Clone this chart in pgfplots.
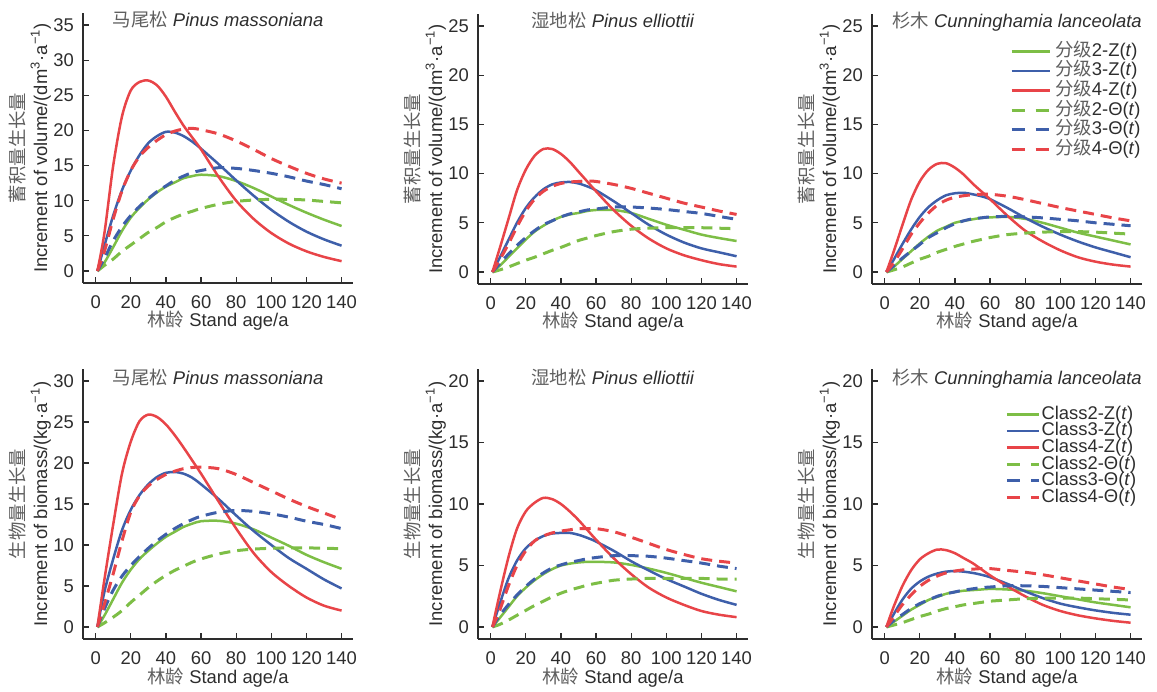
\documentclass[border=0pt]{standalone}
\usepackage{fontspec}
\setmainfont{Liberation Sans}
\newfontfamily\cjk{Noto Sans CJK SC}
\usepackage{pgfplots}
\usepackage{pgfplotstable}
\pgfplotsset{compat=1.18}
\usepackage{xcolor}
\definecolor{cgreen}{RGB}{125,190,70}
\definecolor{cblue}{RGB}{62,95,170}
\definecolor{cred}{RGB}{232,68,72}
\definecolor{txt}{RGB}{45,45,45}
\definecolor{cjkgray}{RGB}{95,95,95}

% columns: age, Z(t) for class 2/3/4, Theta(t) for class 2/3/4
\pgfplotstableread{
t   Z2    Z3    Z4    T2    T3    T4
1   0     0     0     0     0     0
5   1.2   3.6   5.4   0.8   1.8   2.8
10  3.4   7.9   15.0  1.7   4.3   7.4
15  5.7   11.5  22.0  2.8   6.3   11.4
20  7.6   14.3  25.7  3.7   7.9   14.3
25  9.0   16.5  26.9  4.6   9.2   16.3
30  10.2  18.2  27.1  5.5   10.3  17.6
35  11.2  19.2  26.4  6.2   11.3  18.6
40  12.0  19.8  24.8  7.0   12.1  19.4
45  12.6  19.7  22.7  7.6   12.9  19.9
50  13.2  19.2  20.7  8.1   13.5  20.2
55  13.5  18.4  19.0  8.5   14.0  20.3
60  13.7  17.4  17.3  8.9   14.3  20.1
70  13.5  15.2  13.4  9.5   14.7  19.5
80  12.8  12.9  10.0  9.9   14.6  18.5
90  11.8  10.7  7.4   10.1  14.3  17.3
100 10.6  8.7   5.4   10.2  13.9  16.0
110 9.4   7.0   3.9   10.2  13.4  14.9
120 8.3   5.6   2.8   10.1  12.8  13.9
130 7.3   4.5   2.0   9.9   12.3  13.1
140 6.4   3.6   1.4   9.7   11.7  12.5
}\volA
\pgfplotstableread{
t   Z2    Z3    Z4    T2    T3    T4
1   0     0     0     0     0     0
5   0.6   1.4   2.3   0.2   0.8   1.2
10  1.5   3.2   5.3   0.5   1.8   2.8
15  2.4   5.0   8.3   0.85  2.7   4.6
20  3.3   6.5   10.4  1.2   3.5   6.2
25  4.1   7.6   11.8  1.5   4.2   7.4
30  4.7   8.4   12.5  1.85  4.8   8.2
35  5.2   8.9   12.5  2.2   5.2   8.7
40  5.6   9.1   12.0  2.5   5.6   9.0
45  5.85  9.15  11.2  2.85  5.9   9.15
50  6.0   9.0   10.2  3.2   6.1   9.2
55  6.2   8.7   9.2   3.45  6.3   9.25
60  6.3   8.3   8.2   3.7   6.4   9.2
70  6.3   7.2   6.3   4.1   6.6   8.9
80  6.0   6.0   4.7   4.35  6.6   8.5
90  5.4   4.8   3.4   4.45  6.5   8.0
100 4.8   3.8   2.4   4.5   6.35  7.5
110 4.3   3.0   1.7   4.5   6.15  7.0
120 3.8   2.4   1.2   4.5   5.95  6.6
130 3.45  2.0   0.8   4.45  5.65  6.2
140 3.15  1.6   0.55  4.4   5.35  5.85
}\volB
\pgfplotstableread{
t   Z2    Z3    Z4    T2    T3    T4
1   0     0     0     0     0     0
5   0.5   1.2   2.0   0.2   0.6   0.9
10  1.3   2.8   4.7   0.5   1.4   2.3
15  2.1   4.3   7.3   0.9   2.1   3.8
20  2.9   5.6   9.2   1.3   2.8   5.0
25  3.6   6.6   10.4  1.6   3.5   6.0
30  4.2   7.3   11.0  2.0   4.0   6.8
35  4.6   7.8   11.05 2.3   4.5   7.3
40  5.0   8.0   10.6  2.6   4.9   7.6
45  5.2   8.05  9.9   2.85  5.2   7.75
50  5.35  7.9   9.0   3.1   5.4   7.85
55  5.5   7.7   8.2   3.3   5.5   7.9
60  5.55  7.4   7.4   3.5   5.6   7.9
70  5.6   6.5   5.7   3.8   5.65  7.7
80  5.4   5.5   4.2   3.95  5.6   7.35
90  5.0   4.6   3.1   4.05  5.5   6.95
100 4.5   3.8   2.2   4.1   5.35  6.55
110 4.0   3.1   1.5   4.1   5.2   6.2
120 3.6   2.5   1.05  4.05  5.0   5.85
130 3.2   2.0   0.75  3.95  4.85  5.5
140 2.8   1.5   0.55  3.85  4.7   5.2
}\volC
\pgfplotstableread{
t   Z2    Z3    Z4    T2    T3    T4
1   0     0     0     0     0     0
5   1.4   4.3   5.8   0.5   2.2   2.8
10  3.4   8.3   12.5  1.2   4.5   6.5
15  5.4   11.8  18.7  2.0   6.2   10.5
20  7.0   14.3  22.6  3.0   7.5   14.0
25  8.3   16.1  25.1  3.9   8.6   16.0
30  9.3   17.4  25.9  4.8   9.6   17.2
35  10.2  18.3  25.6  5.6   10.5  18.0
40  11.0  18.8  24.7  6.3   11.3  18.6
45  11.6  18.9  23.4  6.9   12.0  19.0
50  12.2  18.7  21.9  7.4   12.6  19.3
55  12.6  18.2  20.3  7.9   13.1  19.45
60  12.9  17.4  18.7  8.3   13.5  19.5
70  12.95 15.6  15.3  8.9   14.0  19.3
80  12.6  13.6  12.0  9.3   14.2  18.6
90  11.9  11.7  9.0   9.5   14.1  17.6
100 10.9  10.0  6.7   9.6   13.8  16.6
110 9.9   8.4   5.0   9.65  13.4  15.6
120 8.8   7.1   3.6   9.65  12.9  14.7
130 7.9   5.8   2.6   9.6   12.5  13.9
140 7.1   4.7   2.0   9.55  12.0  13.1
}\bioA
\pgfplotstableread{
t   Z2    Z3    Z4    T2    T3    T4
1   0     0     0     0     0     0
5   0.7   1.8   2.6   0.2   0.9   1.3
10  1.6   3.9   5.6   0.55  1.8   3.3
15  2.5   5.4   8.0   0.95  2.6   5.0
20  3.2   6.4   9.4   1.35  3.3   6.2
25  3.8   7.0   10.1  1.75  3.9   7.0
30  4.3   7.4   10.5  2.1   4.4   7.4
35  4.7   7.6   10.4  2.45  4.8   7.65
40  5.0   7.65  10.0  2.75  5.05  7.8
45  5.15  7.65  9.4   3.0   5.25  7.9
50  5.25  7.5   8.7   3.2   5.4   8.0
55  5.3   7.25  7.9   3.4   5.55  8.0
60  5.3   6.95  7.1   3.55  5.65  8.0
70  5.25  6.2   5.6   3.8   5.8   7.75
80  5.05  5.35  4.3   3.9   5.8   7.3
90  4.75  4.6   3.2   3.95  5.75  6.8
100 4.4   3.9   2.4   3.95  5.6   6.3
110 4.0   3.3   1.8   3.95  5.4   5.9
120 3.6   2.7   1.3   3.95  5.2   5.55
130 3.25  2.2   1.0   3.9   4.95  5.35
140 2.9   1.8   0.8   3.9   4.75  5.2
}\bioB
\pgfplotstableread{
t   Z2    Z3    Z4    T2    T3    T4
1   0     0     0     0     0     0
5   0.4   1.0   1.6   0.15  0.5   0.8
10  0.9   2.2   3.3   0.35  1.0   1.8
15  1.4   3.1   4.6   0.6   1.5   2.6
20  1.8   3.7   5.5   0.85  1.9   3.3
25  2.2   4.1   6.0   1.05  2.2   3.8
30  2.45  4.35  6.3   1.3   2.5   4.15
35  2.7   4.5   6.25  1.5   2.7   4.4
40  2.85  4.55  6.0   1.65  2.85  4.55
45  2.95  4.5   5.6   1.8   3.0   4.65
50  3.0   4.4   5.2   1.9   3.1   4.7
55  3.05  4.25  4.7   2.0   3.2   4.75
60  3.1   4.05  4.2   2.1   3.25  4.75
70  3.05  3.5   3.3   2.2   3.35  4.6
80  2.95  2.9   2.5   2.3   3.35  4.45
90  2.75  2.35  1.8   2.35  3.3   4.25
100 2.5   1.9   1.3   2.35  3.2   4.0
110 2.25  1.6   0.95  2.35  3.1   3.75
120 2.0   1.35  0.7   2.3   3.0   3.5
130 1.8   1.15  0.5   2.25  2.9   3.25
140 1.6   1.0   0.35  2.2   2.8   3.05
}\bioC

\newcommand{\fs}{\fontsize{9.2}{11.2}\selectfont}
\newcommand{\zh}[1]{\textcolor{cjkgray}{\cjk #1}}

\pgfplotsset{
  every axis title/.style={at={(axis description cs:0.5,1)}, anchor=base,
    yshift=-6.8pt, font=\fs, text=txt},
  panel/.style={
    scale only axis, width=135pt, height=135pt,
    anchor=south west,
    axis lines=left,
    axis line style={-, draw=txt, line width=0.6pt},
    xmin=-7.2, xmax=146.5,
    xtick={0,20,...,140},
    tick align=inside, major tick length=3pt,
    tick style={draw=txt, line width=0.6pt},
    tick label style={font=\fs, text=txt},
    /pgf/number format/assume math mode=true,
    xticklabel style={yshift=-3pt},
    yticklabel style={xshift=-1pt},
    xlabel={\zh{林龄} Stand age/a},
    x label style={at={(axis description cs:0.5,0)}, anchor=base,
      yshift=-22pt, font=\fs, text=txt},
    y label style={at={(axis description cs:-0.117,0.5)}, anchor=south,
      inner sep=0pt, align=center, font=\fs, text=txt},
    legend cell align=left,
    every axis plot/.append style={smooth, no markers},
  },
  vol/.style={ylabel={\zh{蓄积量生长量}\\Increment of volume/(dm\textsuperscript{3}·a\textsuperscript{−1})}},
  bio/.style={ylabel={\zh{生物量生长量}\\Increment of biomass/(kg·a\textsuperscript{−1})}},
  zs/.style={line width=1.25pt},
  ts/.style={line width=1.5pt, dash pattern=on 5.5pt off 3.5pt,
    legend image post style={dash pattern=on 6.5pt off 5.5pt}},
}

\newcommand{\curves}[1]{
  \addplot[zs, cgreen] table[x=t, y=Z2] {#1};
  \addplot[zs, cblue]  table[x=t, y=Z3] {#1};
  \addplot[zs, cred]   table[x=t, y=Z4] {#1};
  \addplot[ts, cgreen] table[x=t, y=T2] {#1};
  \addplot[ts, cblue]  table[x=t, y=T3] {#1};
  \addplot[ts, cred]   table[x=t, y=T4] {#1};
}

\begin{document}
\begin{tikzpicture}
\useasboundingbox (0,0) rectangle (578.5pt,345.5pt);

% top row: volume increment
\begin{axis}[panel, vol, at={(41.5pt,204pt)},
  ymin=-1.707, ymax=36.71, ytick={0,5,...,35},
  title={\zh{马尾松} \textit{Pinus massoniana}}]
\curves{\volA}
\end{axis}

\begin{axis}[panel, vol, at={(239pt,203.5pt)},
  ymin=-1.22, ymax=26.22, ytick={0,5,...,25},
  title={\zh{湿地松} \textit{Pinus elliottii}}]
\curves{\volB}
\end{axis}

\begin{axis}[panel, vol, at={(436pt,203.5pt)},
  ymin=-1.22, ymax=26.22, ytick={0,5,...,25},
  title={\zh{杉木} \textit{Cunninghamia lanceolata}},
  title style={xshift=5pt},
  legend style={at={(rel axis cs:1,0.899)}, anchor=north east,
    draw=none, fill=none, inner sep=0pt, row sep=0pt, font=\fs, text=txt,
    nodes={inner sep=0.5pt, text height=6.8pt, text depth=2pt},
    /tikz/every odd column/.style={column sep=1.5pt}},
  legend image code/.code={\draw[#1] (0pt,0pt) -- (19pt,0pt);}]
\curves{\volC}
\legend{\zh{分级}2-Z(\textit{t}),\zh{分级}3-Z(\textit{t}),\zh{分级}4-Z(\textit{t}),
  \zh{分级}2-Θ(\textit{t}),\zh{分级}3-Θ(\textit{t}),\zh{分级}4-Θ(\textit{t})}
\end{axis}

% bottom row: biomass increment
\begin{axis}[panel, bio, at={(41.5pt,26pt)},
  ymin=-1.463, ymax=31.46, ytick={0,5,...,30},
  title={\zh{马尾松} \textit{Pinus massoniana}}, title style={yshift=-0.8pt}]
\curves{\bioA}
\end{axis}

\begin{axis}[panel, bio, at={(239pt,26pt)},
  ymin=-0.976, ymax=20.98, ytick={0,5,...,20},
  title={\zh{湿地松} \textit{Pinus elliottii}}, title style={yshift=-0.8pt}]
\curves{\bioB}
\end{axis}

\begin{axis}[panel, bio, at={(436pt,26pt)},
  ymin=-0.976, ymax=20.98, ytick={0,5,...,20},
  title={\zh{杉木} \textit{Cunninghamia lanceolata}},
  title style={xshift=5pt, yshift=-0.8pt},
  legend style={at={(rel axis cs:0.981,0.864)}, anchor=north east,
    draw=none, fill=none, inner sep=0pt, row sep=0pt, font=\fs, text=txt,
    nodes={inner sep=0.1pt, text height=6.5pt, text depth=1.6pt},
    /tikz/every odd column/.style={column sep=0.5pt}},
  legend image code/.code={\draw[#1] (0pt,0pt) -- (16pt,0pt);}]
\curves{\bioC}
\legend{Class2-Z(\textit{t}),Class3-Z(\textit{t}),Class4-Z(\textit{t}),
  Class2-Θ(\textit{t}),Class3-Θ(\textit{t}),Class4-Θ(\textit{t})}
\end{axis}
\end{tikzpicture}
\end{document}
